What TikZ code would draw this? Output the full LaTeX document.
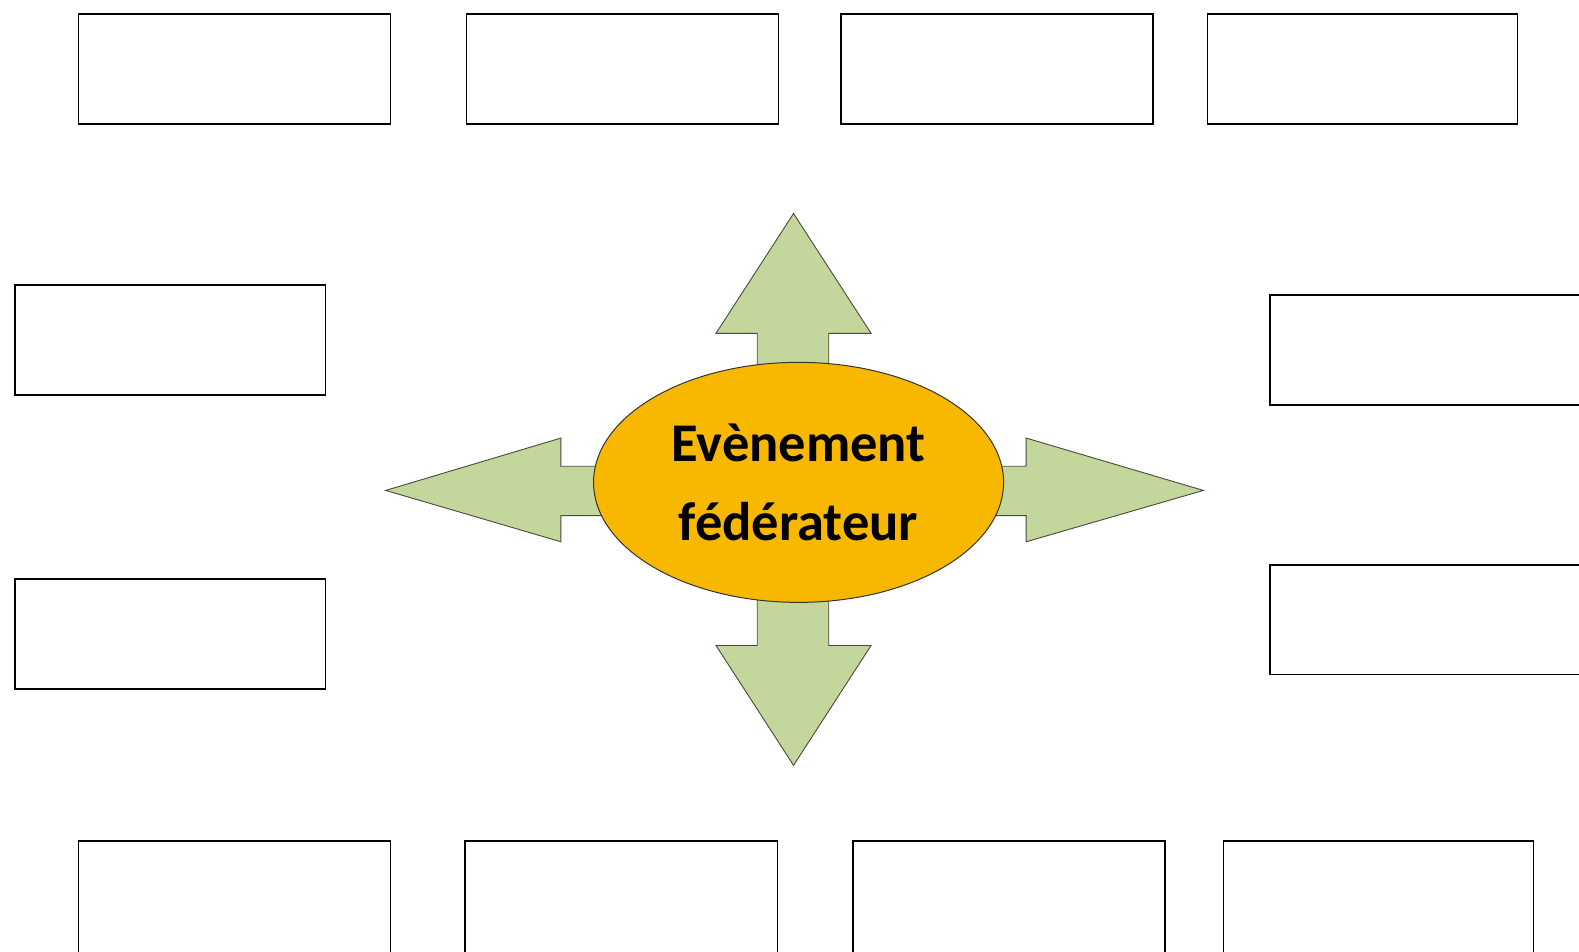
\documentclass[tikz,border=0pt]{standalone}
\usepackage{fontspec}
\setmainfont{Carlito}
\usetikzlibrary{shapes.geometric}
\definecolor{arrowgreen}{HTML}{C3D69B}
\definecolor{arrowline}{HTML}{4A4A3A}
\definecolor{ovalfill}{HTML}{F9B800}
\begin{document}
\begin{tikzpicture}[x=1.007pt,y=-1.007pt,
  emptybox/.style={draw=black,line width=1.5pt,fill=white},
  bigarrow/.style={draw=arrowline,line width=0.9pt,fill=arrowgreen,line join=miter},
  oval/.style={ellipse,draw=black!80,line width=1pt,fill=ovalfill,minimum width=410pt,minimum height=240pt,inner sep=0pt,align=center,font=\fontsize{54.5}{79}\selectfont\bfseries}]
\useasboundingbox (0,0) rectangle (1568,944.4);
\clip (0,0) rectangle (1568,944.4);
% top row
\draw[emptybox] (78,14) rectangle (388,123);
\draw[emptybox] (463,14) rectangle (773,123);
\draw[emptybox] (835,14) rectangle (1145,123);
\draw[emptybox] (1199,14) rectangle (1507,123);
% left column
\draw[emptybox] (15,283) rectangle (323,392);
\draw[emptybox] (15,575) rectangle (323,684);
% right column (cut by the edge)
\draw[emptybox] (1261,293) rectangle (1590,402);
\draw[emptybox] (1261,561) rectangle (1590,670);
% bottom row (cut by the edge)
\draw[emptybox] (78,835) rectangle (388,960);
\draw[emptybox] (462,835) rectangle (772,960);
\draw[emptybox] (847,835) rectangle (1157,960);
\draw[emptybox] (1215,835) rectangle (1523,960);
% centre
\coordinate (c) at (793,479);
% arrows
\draw[bigarrow] (752,420) -- (752,331) -- (711,331) -- (788,212) -- (865,331) -- (823,331) -- (823,420) -- cycle;
\draw[bigarrow] (752,540) -- (752,641) -- (711,641) -- (788,760) -- (865,641) -- (823,641) -- (823,540) -- cycle;
\draw[bigarrow] (640,463) -- (557,463) -- (557,435) -- (383,487) -- (557,538) -- (557,512) -- (640,512) -- cycle;
\draw[bigarrow] (950,463) -- (1019,463) -- (1019,435) -- (1195,487) -- (1019,538) -- (1019,512) -- (950,512) -- cycle;
\node[oval] (ev) at (c) {Evènement\\fédérateur};
\end{tikzpicture}
\end{document}
